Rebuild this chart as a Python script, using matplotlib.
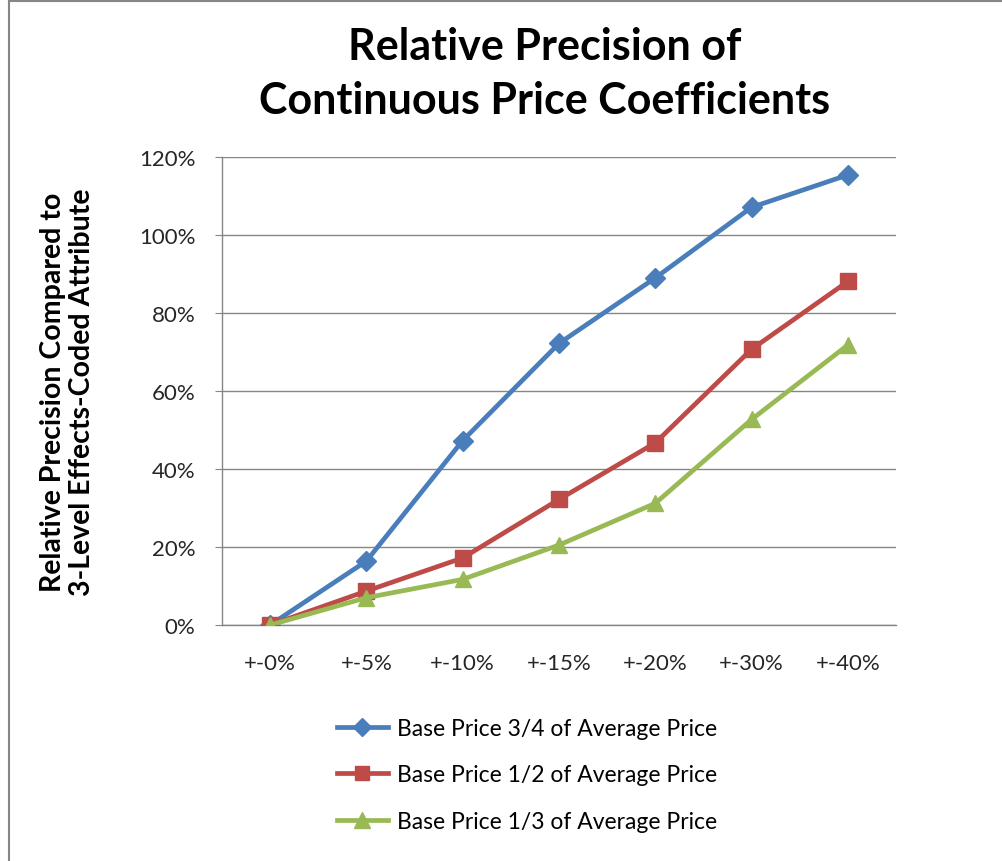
import matplotlib
matplotlib.use("Agg")
import matplotlib.pyplot as plt
from matplotlib.lines import Line2D
from matplotlib.ticker import FuncFormatter

plt.rcParams['font.family'] = ['Lato', 'DejaVu Sans']

categories = ["+-0%", "+-5%", "+-10%", "+-15%", "+-20%", "+-30%", "+-40%"]
series_names = ["Base Price 3/4 of Average Price",
                "Base Price 1/2 of Average Price",
                "Base Price 1/3 of Average Price"]
blue_vals = [0.0, 16.4, 47.3, 72.2, 89.0, 107.1, 115.4]
red_vals = [0.0, 8.7, 17.2, 32.2, 46.7, 70.7, 88.1]
green_vals = [0.0, 7.0, 11.7, 20.5, 31.2, 52.7, 71.8]
yticks = [0, 20, 40, 60, 80, 100, 120]

colors = ["#4A7EBB", "#BE4B48", "#98B954"]
markers = ["D", "s", "^"]
msizes = [10, 11, 12]

W, H = 1003, 862
fig = plt.figure(figsize=(W / 100, H / 100), dpi=100)
fig.patch.set_facecolor("white")

ax = fig.add_axes([222 / W, 1 - 626 / H, 674 / W, 468 / H])

xs = list(range(len(categories)))
for vals, c, m, ms, name in zip([blue_vals, red_vals, green_vals], colors, markers, msizes, series_names):
    ax.plot(xs, vals, color=c, lw=3.4, marker=m, markersize=ms, markeredgecolor=c,
            markerfacecolor=c, label=name, solid_joinstyle="round", zorder=3)

ax.set_xlim(-0.5, len(categories) - 0.5)
ax.set_ylim(0, 120)
ax.set_yticks(yticks)
ax.yaxis.set_major_formatter(FuncFormatter(lambda v, p: f"{int(v)}%"))
ax.set_xticks(xs)
ax.set_xticklabels(categories)
ax.grid(axis="y", color="#868686", lw=1.0)
ax.set_axisbelow(True)
for s in ["top", "right"]:
    ax.spines[s].set_visible(False)
for s in ["left", "bottom"]:
    ax.spines[s].set_color("#868686")
    ax.spines[s].set_linewidth(1.0)
ax.tick_params(axis="y", length=5, color="#868686", labelsize=16, labelcolor="#262626", pad=14)
ax.tick_params(axis="x", length=0, labelsize=16, labelcolor="#262626", pad=20)

ax.set_ylabel("Relative Precision Compared to\n3-Level Effects-Coded Attribute",
              fontsize=20.5, fontweight="bold", linespacing=1.15)
ax.yaxis.set_label_coords(-0.188, 0.5)

fig.text(545 / W, 1 - 74 / H, "Relative Precision of\nContinuous Price Coefficients",
         ha="center", va="center", fontsize=31, fontweight="bold", linespacing=1.45)

handles = [Line2D([0], [0], color=c, lw=3.4, marker=m, markersize=ms - 1, markerfacecolor=c,
                  markeredgecolor=c) for c, m, ms in zip(colors, markers, msizes)]
fig.legend(handles, series_names, loc="center left", bbox_to_anchor=(328 / W, 1 - 776 / H),
           frameon=False, fontsize=16.5, handlelength=2.2, labelspacing=1.12, handletextpad=0.4,
           borderaxespad=0)

# chart frame (left and top border)
fig.add_artist(Line2D([9 / W, 9 / W], [0, 1 - 2 / H], color="#868686", lw=1.5))
fig.add_artist(Line2D([9 / W, 1], [1 - 2 / H, 1 - 2 / H], color="#868686", lw=1.5))

fig.savefig("out.png", dpi=100, facecolor="white")
